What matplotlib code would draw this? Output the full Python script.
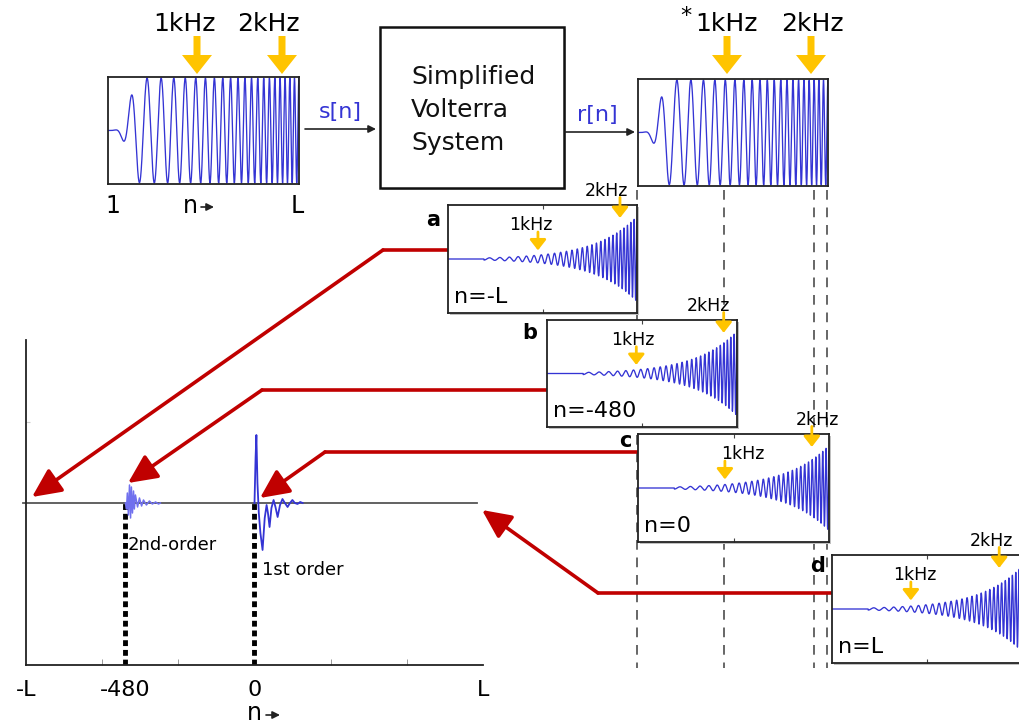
import numpy as np
import matplotlib
matplotlib.use("Agg")
from matplotlib import pyplot as plt
from matplotlib.patches import Rectangle

# canvas size in pixels, the overlay axes works in these units
W, H = 1019, 723

# sweep s[n] / r[n]: where 1 kHz and 2 kHz fall across the frame, cycles per frame width at 1 kHz
SWEEP_POS_1K = 0.46
SWEEP_POS_2K = 0.91
SWEEP_CYCLES_1K = 19
SWEEP_FADE_IN = 0.17

# inverse filter shown in frames a-d
INV_POS_1K = 0.47
INV_POS_2K = 0.91
INV_CYCLES_1K = 26
INV_AMP_1K = 0.07
INV_AMP_POWER = 2.9
INV_FLAT_UNTIL = 0.19

# lower plot: lag axis
L = 850
LAG_TICKS = [-L, -480, 0, L]
LAG_LABELS = ['-L', '-480', '0', 'L']

# impulse responses (lag offset, amplitude)
FIRST_ORDER_N = [0, 4, 7, 11, 16, 22, 30, 38, 45, 50, 56, 63, 71, 78, 86, 95, 104, 113, 123, 132, 141, 150, 160, 170, 179]
FIRST_ORDER_H = [0, 45, 68, 20, -10, -30, -47, -15, -2, -10, -24, -5, 3, -4, -14, -2, 4, 0, -4, 0, 3, 0, -1, 1, 0]
SECOND_ORDER_LAG = -480
SECOND_ORDER_N = [0, 4, 7, 11, 15, 19, 22, 26, 30, 33, 37, 45, 52, 60, 67, 78, 89, 100, 112, 123, 130]
SECOND_ORDER_H = [0, -6, 10, -12, 18, -15, 16, -10, 12, -6, 8, -4, 5, -3, 3, -2, 2, -1, 1, -1, 0]

# frames a-d
PANEL_LETTERS = ['a', 'b', 'c', 'd']
PANEL_SHIFTS = ['n=-L', 'n=-480', 'n=0', 'n=L']
PANEL_1K_ARROW = [0.476, 0.47, 0.455, 0.415]
PANEL_1K_TEXT = [0.44, 0.45, 0.55, 0.435]
PANEL_2K_ARROW = [0.91, 0.93, 0.91, 0.88]
PANEL_2K_TEXT = [0.84, 0.85, 0.94, 0.84]

# layout (pixels)
PANEL_BOXES = [(448, 205, 637, 313), (547, 320, 737, 427), (638, 434, 829, 542), (832, 555, 1022, 663)]
PANEL_LETTER_XY = [(433, 220), (530, 333), (625, 441), (818, 566)]
RED_PATHS = [((448, 250), (383, 250), (32, 497)),
             ((547, 390), (262, 390), (128, 483)),
             ((638, 452), (325, 452), (260, 498)),
             ((832, 593), (598, 593), (482, 510))]
DASHED_X = [637, 724, 814, 827]

BLUE = '#3434d4'
LIGHT_BLUE = '#7070ee'
RED = '#c00000'
YELLOW = '#ffc400'

t = np.linspace(0, 1, 4000)


def sweep_phase(t, cycles_1k, pos_1k, pos_2k):
    # exponential sweep, phase counted in cycles from the frame start
    k = np.log(2) / (pos_2k - pos_1k)
    return cycles_1k / k * (np.exp(k * (t - pos_1k)) - np.exp(-k * pos_1k))


fade = (0.5 - 0.5 * np.cos(np.pi * np.clip(t / SWEEP_FADE_IN, 0, 1))) ** 2
sweep = fade * np.sin(2 * np.pi * sweep_phase(t, SWEEP_CYCLES_1K, SWEEP_POS_1K, SWEEP_POS_2K))

k_inv = np.log(2) / (INV_POS_2K - INV_POS_1K)
env = INV_AMP_1K * np.exp(INV_AMP_POWER * k_inv * (t - INV_POS_1K))
env[t < INV_FLAT_UNTIL] = 0
inverse = env * np.sin(2 * np.pi * sweep_phase(t, INV_CYCLES_1K, INV_POS_1K, INV_POS_2K))

fig = plt.figure(figsize=(W / 100, H / 100), dpi=100)
ax = fig.add_axes([0, 0, 1, 1])
ax.set_xlim(0, W)
ax.set_ylim(H, 0)
ax.axis('off')


def px_axes(x0, y0, x1, y1, zorder=2):
    return fig.add_axes([x0 / W, 1 - y1 / H, (x1 - x0) / W, (y1 - y0) / H], zorder=zorder)


def frame(a, lw=1.3):
    a.set_xticks([])
    a.set_yticks([])
    for sp in a.spines.values():
        sp.set_linewidth(lw)
        sp.set_color('#222')


def big_yellow(x):
    ax.arrow(x, 36, 0, 38, width=7, head_width=30, head_length=19,
             length_includes_head=True, color=YELLOW, lw=0)


def small_arrow(x0, y0, x1, y1):
    ax.annotate('', xy=(x1, y1), xytext=(x0, y0),
                arrowprops=dict(arrowstyle='-|>', color='#222', lw=1.2,
                                mutation_scale=11, shrinkA=0, shrinkB=0))


# top row: s[n] -> system -> r[n]
for (x0, y0, x1, y1) in [(108, 77, 299, 184), (638, 79, 828, 186)]:
    a = px_axes(x0, y0, x1, y1)
    a.plot(t, sweep, color=BLUE, lw=0.95)
    a.set_xlim(0, 1)
    a.set_ylim(-1.02, 1.02)
    frame(a)

ax.text(185, 24, '1kHz', fontsize=18, ha='center', va='center')
ax.text(268, 24, '2kHz', fontsize=18, ha='center', va='center')
ax.text(686, 16, '*', fontsize=16, ha='center', va='center')
ax.text(727, 24, '1kHz', fontsize=18, ha='center', va='center')
ax.text(812, 24, '2kHz', fontsize=18, ha='center', va='center')
for x in [197, 282, 727, 811]:
    big_yellow(x)

ax.text(113, 206, '1', fontsize=17, ha='center', va='center')
ax.text(190, 206, 'n', fontsize=17, ha='center', va='center')
small_arrow(201, 207, 214, 207)
ax.text(297, 206, 'L', fontsize=17, ha='center', va='center')

ax.text(340, 112, 's[n]', fontsize=16, color=BLUE, ha='center', va='center')
small_arrow(305, 129, 376, 129)
ax.text(597, 115, 'r[n]', fontsize=16, color=BLUE, ha='center', va='center')
small_arrow(565, 132, 635, 132)

ax.add_patch(Rectangle((382, 29), 184, 161, color='#c8c8c8', lw=0, zorder=1))
ax.add_patch(Rectangle((380, 27), 184, 161, facecolor='white', edgecolor='#111', lw=1.8, zorder=2))
for i, word in enumerate(['Simplified', 'Volterra', 'System']):
    ax.text(411, 77 + 33 * i, word, fontsize=18, ha='left', va='center', color='#111', zorder=3)

# dashed guides down from r[n]
for x in DASHED_X:
    ax.plot([x, x], [190, 668], color='#666', lw=1.4, dashes=(5, 4), zorder=1)

# red arrows from each frame to its lag
for (x0, y0), (xb, yb), (xt, yt) in RED_PATHS:
    ax.plot([x0, xb], [y0, yb], color=RED, lw=2.6, solid_capstyle='round', zorder=3)
    ax.annotate('', xy=(xt, yt), xytext=(xb, yb), zorder=3,
                arrowprops=dict(arrowstyle='-|>,head_length=0.8,head_width=0.38', color=RED,
                                lw=2.6, mutation_scale=22, shrinkA=0, shrinkB=0))

# frames a-d with the shifted inverse filter
for i, (x0, y0, x1, y1) in enumerate(PANEL_BOXES):
    ax.add_patch(Rectangle((x0 + 2, y0 + 2), x1 - x0, y1 - y0, color='#c0c0c0', lw=0, zorder=1))
    a = px_axes(x0, y0, x1, y1)
    a.plot(t, inverse, color=BLUE, lw=0.95)
    a.set_xlim(0, 1)
    a.set_ylim(-1, 1)
    frame(a)
    a.set_xticks([0.5])
    a.set_xticklabels([])
    a.tick_params(axis='x', direction='in', length=3, top=True, color='#444')
    a.text(0.03, 0.15, PANEL_SHIFTS[i], transform=a.transAxes, fontsize=16, ha='left', va='center')
    a.text(PANEL_1K_TEXT[i], 0.815, '1kHz', transform=a.transAxes, fontsize=12.5, ha='center', va='center')
    a.text(PANEL_2K_TEXT[i], 1.13, '2kHz', transform=a.transAxes, fontsize=12.5, ha='center', va='center',
           clip_on=False)
    for xf, ytail, ytip in [(PANEL_1K_ARROW[i], 0.75, 0.58), (PANEL_2K_ARROW[i], 1.07, 0.88)]:
        a.annotate('', xy=(xf, ytip), xytext=(xf, ytail), xycoords='axes fraction', annotation_clip=False,
                   arrowprops=dict(arrowstyle='-|>,head_length=0.45,head_width=0.35', color=YELLOW,
                                   lw=2, mutation_scale=14, shrinkA=0, shrinkB=0))
    lx, ly = PANEL_LETTER_XY[i]
    ax.text(lx, ly, PANEL_LETTERS[i], fontsize=15, fontweight='bold', ha='center', va='center')

# lower plot: kernels by lag
axb = px_axes(26, 340, 483, 665, zorder=1)
axb.patch.set_alpha(0)
axb.set_xlim(-L, L)
axb.set_ylim(-162, 163)
for s in ['top', 'right']:
    axb.spines[s].set_visible(False)
for s in ['left', 'bottom']:
    axb.spines[s].set_linewidth(1.3)
    axb.spines[s].set_color('#222')
axb.plot([-L - 12, L - 22], [0, 0], color='#555', lw=1.3, clip_on=False)
axb.vlines([SECOND_ORDER_LAG, 0], -162, 0, colors='black', lw=3.5, linestyles=[(0, (1.2, 0.8))])
axb.plot(np.add(SECOND_ORDER_LAG, SECOND_ORDER_N), SECOND_ORDER_H, color=LIGHT_BLUE, lw=1.1)
axb.plot(FIRST_ORDER_N, FIRST_ORDER_H, color=BLUE, lw=1.3)
axb.set_xticks(LAG_TICKS, LAG_LABELS, fontsize=16)
axb.tick_params(axis='x', length=0, pad=11)
axb.set_xticks(np.arange(-2, 3) * L / 3, minor=True)
axb.tick_params(axis='x', which='minor', direction='in', length=4, color='#888')
axb.set_yticks([81])
axb.set_yticklabels([])
axb.tick_params(axis='y', direction='in', length=3, color='#ccc')

ax.text(128, 545, '2nd-order', fontsize=13, ha='left', va='center')
ax.text(262, 570, '1st order', fontsize=13, ha='left', va='center')
ax.text(254, 713, 'n', fontsize=17, ha='center', va='center')
small_arrow(266, 715, 280, 715)

fig.savefig('out.png', dpi=100)
